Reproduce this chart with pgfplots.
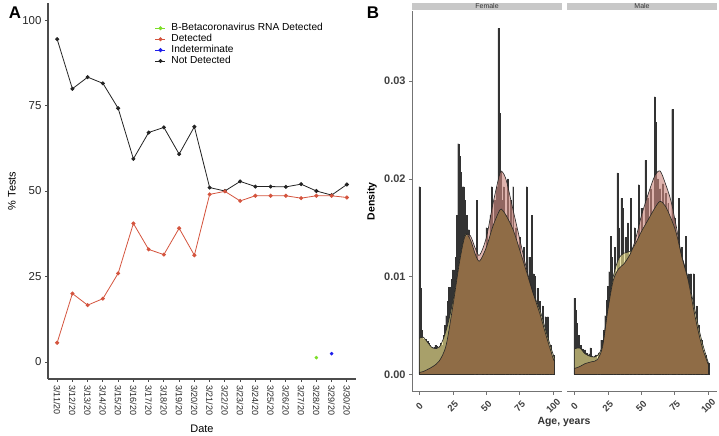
\documentclass[border=0pt]{standalone}
\usepackage{fontspec}
\setmainfont{Liberation Sans}
\usepackage{pgfplots}
\usepackage{pgfplotstable}
\pgfplotsset{compat=1.18}
\definecolor{detred}{RGB}{212,84,62}
\definecolor{betagreen}{RGB}{124,222,40}
\definecolor{indblue}{RGB}{30,30,235}
\definecolor{notdet}{RGB}{35,35,35}
\definecolor{pinkfill}{RGB}{204,134,124}
\definecolor{yelfill}{RGB}{240,228,140}
\definecolor{brownfill}{RGB}{143,108,70}
\definecolor{histgray}{RGB}{78,78,78}
\definecolor{stripgray}{RGB}{200,200,200}

\pgfplotstableread{
age Y P M
0   0.0037 0.0002 0.0002
3   0.0038 0.0003 0.0003
6   0.0033 0.0005 0.0005
10  0.0027 0.0008 0.0008
15  0.0028 0.0014 0.0014
20  0.0045 0.0030 0.0030
25  0.0075 0.0070 0.0070
30  0.0118 0.0115 0.0115
34  0.0143 0.0141 0.0141
38  0.0138 0.0142 0.0138
42  0.0122 0.0128 0.0122
45  0.0116 0.0122 0.0116
50  0.0130 0.0140 0.0130
55  0.0152 0.0175 0.0152
60  0.0168 0.0205 0.0168
62  0.0168 0.0207 0.0168
65  0.0162 0.0198 0.0162
70  0.0148 0.0168 0.0148
75  0.0127 0.0138 0.0127
80  0.0105 0.0108 0.0105
85  0.0083 0.0083 0.0083
90  0.0066 0.0062 0.0062
95  0.0042 0.0038 0.0038
100 0.0020 0.0016 0.0016
101 0.0017 0.0014 0.0014
}\femdens

\pgfplotstableread{
age Y P M
0   0.0026 0.0006 0.0006
4   0.0027 0.0008 0.0008
8   0.0021 0.0011 0.0011
13  0.0018 0.0013 0.0013
17  0.0019 0.0015 0.0015
21  0.0030 0.0028 0.0028
25  0.0068 0.0066 0.0066
29  0.0100 0.0096 0.0096
33  0.0118 0.0108 0.0108
37  0.0124 0.0113 0.0113
42  0.0126 0.0124 0.0124
46  0.0135 0.0140 0.0135
50  0.0146 0.0162 0.0146
55  0.0158 0.0184 0.0158
60  0.0170 0.0203 0.0170
64  0.0177 0.0208 0.0177
68  0.0172 0.0195 0.0172
72  0.0160 0.0178 0.0160
76  0.0145 0.0152 0.0145
80  0.0122 0.0122 0.0122
85  0.0098 0.0096 0.0096
90  0.0066 0.0060 0.0060
95  0.0035 0.0030 0.0030
100 0.0012 0.0010 0.0010
}\maledens

\pgfplotstableread{
age d
0 0.0192
1 0.0088
2 0.0045
3 0.0036
4 0.0035
5 0.0036
6 0.0034
7 0.0032
8 0.0030
9 0.0028
10 0.0027
11 0.0028
12 0.0030
13 0.0029
14 0.0027
15 0.0029
16 0.0032
17 0.0030
18 0.0040
19 0.0050
20 0.0060
21 0.0075
22 0.0089
23 0.0089
24 0.0097
25 0.0107
26 0.0107
27 0.0120
28 0.0163
29 0.0236
30 0.0223
31 0.0207
32 0.0192
33 0.0192
34 0.0178
35 0.0163
36 0.0148
37 0.0148
38 0.0130
40 0.0120
43 0.0178
47 0.0120
50 0.0150
53 0.0163
54 0.0192
56 0.0178
58 0.0192
59 0.0354
60 0.0267
61 0.0207
62 0.0178
63 0.0192
65 0.0163
66 0.0200
68 0.0178
70 0.0192
72 0.0150
75 0.0140
78 0.0130
80 0.0192
82 0.0120
84 0.0163
85 0.0103
86 0.0100
88 0.0088
90 0.0075
92 0.0070
94 0.0059
96 0.0059
98 0.0030
100 0.0020
}\femhist

\pgfplotstableread{
age d
0 0.0078
1 0.0066
2 0.0052
3 0.0040
4 0.0030
5 0.0030
6 0.0026
7 0.0024
8 0.0025
9 0.0022
10 0.0020
11 0.0021
12 0.0027
13 0.0019
14 0.0018
15 0.0019
16 0.0020
18 0.0022
20 0.0035
22 0.0045
23 0.0060
24 0.0076
25 0.0090
26 0.0105
27 0.0141
28 0.0120
30 0.0130
32 0.0206
33 0.0150
35 0.0180
36 0.0170
38 0.0140
40 0.0155
42 0.0180
45 0.0150
48 0.0194
50 0.0170
53 0.0219
55 0.0180
57 0.0190
60 0.0284
61 0.0258
62 0.0200
64 0.0190
66 0.0195
68 0.0185
70 0.0175
73 0.0271
75 0.0160
78 0.0180
80 0.0130
83 0.0141
85 0.0103
87 0.0103
89 0.0103
91 0.0070
93 0.0050
95 0.0035
98 0.0020
100 0.0012
}\malehist

\pgfplotsset{
  facet/.style={
    scale only axis, width=150bp, height=380.7bp,
    xmin=-5.5, xmax=106.5, ymin=-0.00177, ymax=0.03717,
    axis x line*=bottom, clip=false,
    axis line style={draw=black!55, line width=0.9bp},
    tick style={draw=black!55, line width=0.7bp},
    tick align=outside, major tick length=3bp,
    xtick={0,25,50,75,100},
    xticklabel style={font=\bfseries\fontsize{9.5}{10}\selectfont, rotate=45, anchor=center, xshift=-8bp, yshift=-8bp, text=black!75},
    yticklabel style={font=\bfseries\fontsize{11}{12}\selectfont, text=black!75},
    /pgf/number format/assume math mode=true,
    scaled y ticks=false,
  },
  histbar/.style={ybar, bar width=0.72, bar shift=0pt, fill=histgray, draw=black!80, line width=0.25bp},
  densfill/.style={smooth, draw=none, fill=#1, fill opacity=0.62},
  densline/.style={smooth, draw=black!85, line width=0.6bp, fill=none},
}

\begin{document}
\begin{tikzpicture}[x=1bp,y=1bp]
\path[use as bounding box] (0,0) rectangle (719,436);

% ---------------- Panel A
\begin{axis}[
  at={(48bp,57bp)}, anchor=south west, scale only axis,
  width=308bp, height=376bp,
  xmin=0.4, xmax=20.6, ymin=-5, ymax=105,
  axis x line*=bottom, axis y line*=left,
  axis line style={draw=black!70, line width=1.2bp},
  tick style={draw=black!70, line width=0.8bp},
  tick align=outside, major tick length=3bp,
  xtick={1,...,20},
  xticklabels={3/11/20,3/12/20,3/13/20,3/14/20,3/15/20,3/16/20,3/17/20,3/18/20,3/19/20,3/20/20,3/21/20,3/22/20,3/23/20,3/24/20,3/25/20,3/26/20,3/27/20,3/28/20,3/29/20,3/30/20},
  xticklabel style={rotate=-90, anchor=west, font=\fontsize{9}{10}\selectfont, text=black!85},
  ytick={0,25,50,75,100},
  yticklabel style={font=\fontsize{11.5}{12}\selectfont, text=black!85},
  /pgf/number format/assume math mode=true,
  xlabel={Date},
  xlabel style={at={(rel axis cs:0.5,0)}, anchor=center, yshift=-50bp, font=\fontsize{11}{12}\selectfont},
  ylabel={\% Tests},
  ylabel style={at={(rel axis cs:0,0.5)}, anchor=center, yshift=36bp, font=\fontsize{11}{12}\selectfont},
  legend style={at={(rel axis cs:0.347,0.947)}, anchor=north west, draw=none, fill=none,
    font=\fontsize{10.2}{11}\selectfont, row sep=0.5bp, inner sep=0pt,
    nodes={inner sep=0.6bp, text height=7.2bp, text depth=2bp}},
  legend cell align=left,
  legend image code/.code={\draw[mark repeat=2,mark phase=2,#1] plot coordinates {(0bp,0bp) (5bp,0bp) (10bp,0bp)}; \path (15bp,0bp);},
]
\addplot[forget plot, color=notdet, line width=0.8bp, mark=*, mark size=1.6bp] coordinates {
(1,94.4)(2,79.9)(3,83.3)(4,81.5)(5,74.2)(6,59.4)(7,67.1)(8,68.6)(9,60.8)(10,68.8)
(11,51.0)(12,50.0)(13,52.8)(14,51.3)(15,51.3)(16,51.2)(17,52.0)(18,50.0)(19,48.8)(20,51.9)};
\addplot[forget plot, color=detred, line width=0.8bp, mark=*, mark size=1.6bp] coordinates {
(1,5.6)(2,20.0)(3,16.6)(4,18.5)(5,25.9)(6,40.5)(7,32.9)(8,31.4)(9,39.1)(10,31.2)
(11,49.0)(12,49.9)(13,47.1)(14,48.6)(15,48.6)(16,48.6)(17,47.9)(18,48.6)(19,48.6)(20,48.1)};
\addplot[forget plot, only marks, color=betagreen, mark=*, mark size=1.6bp] coordinates {(18,1.25)};
\addplot[forget plot, only marks, color=indblue, mark=*, mark size=1.6bp] coordinates {(19,2.4)};
\addlegendimage{color=betagreen, line width=0.8bp, mark=*, mark size=1.6bp}
\addlegendentry{B-Betacoronavirus RNA Detected}
\addlegendimage{color=detred, line width=0.8bp, mark=*, mark size=1.6bp}
\addlegendentry{Detected}
\addlegendimage{color=indblue, line width=0.8bp, mark=*, mark size=1.6bp}
\addlegendentry{Indeterminate}
\addlegendimage{color=notdet, line width=0.8bp, mark=*, mark size=1.6bp}
\addlegendentry{Not Detected}
\end{axis}

% ---------------- Panel B, Female
\begin{axis}[facet,
  at={(412bp,44.3bp)}, anchor=south west,
  axis y line*=left,
  ytick={0,0.01,0.02,0.03}, yticklabels={0.00,0.01,0.02,0.03},
  ylabel={Density},
  ylabel style={at={(rel axis cs:0,0.5)}, anchor=center, yshift=40bp, font=\bfseries\fontsize{10.5}{11}\selectfont},
]
\addplot[histbar] table[x=age,y=d]{\femhist};
\addplot[densfill=pinkfill] table[x=age,y=P]{\femdens} \closedcycle;
\addplot[densfill=yelfill] table[x=age,y=Y]{\femdens} \closedcycle;
\addplot[smooth, draw=none, fill=brownfill] table[x=age,y=M]{\femdens} \closedcycle;
\addplot[densline] table[x=age,y=P]{\femdens} \closedcycle;
\addplot[densline] table[x=age,y=Y]{\femdens} \closedcycle;
\fill[stripgray] ([yshift=1bp]rel axis cs:0,1) rectangle ([yshift=8.3bp]rel axis cs:1,1);
\node[font=\fontsize{7}{7}\selectfont, text=black!80] at ([yshift=4.7bp]rel axis cs:0.5,1) {Female};
\end{axis}

% ---------------- Panel B, Male
\begin{axis}[facet,
  at={(567bp,44.3bp)}, anchor=south west,
  axis y line=none, ytick=\empty,
]
\addplot[histbar] table[x=age,y=d]{\malehist};
\addplot[densfill=pinkfill] table[x=age,y=P]{\maledens} \closedcycle;
\addplot[densfill=yelfill] table[x=age,y=Y]{\maledens} \closedcycle;
\addplot[smooth, draw=none, fill=brownfill] table[x=age,y=M]{\maledens} \closedcycle;
\addplot[densline] table[x=age,y=P]{\maledens} \closedcycle;
\addplot[densline] table[x=age,y=Y]{\maledens} \closedcycle;
\fill[stripgray] ([yshift=1bp]rel axis cs:0,1) rectangle ([yshift=8.3bp]rel axis cs:1,1);
\node[font=\fontsize{7}{7}\selectfont, text=black!80] at ([yshift=4.7bp]rel axis cs:0.5,1) {Male};
\end{axis}

\node[font=\bfseries\fontsize{10.5}{11}\selectfont, text=black!80] at (564,14) {Age, years};
\node[font=\bfseries\fontsize{17}{17}\selectfont] at (15,423) {A};
\node[font=\bfseries\fontsize{17}{17}\selectfont] at (373,423) {B};
\end{tikzpicture}
\end{document}
